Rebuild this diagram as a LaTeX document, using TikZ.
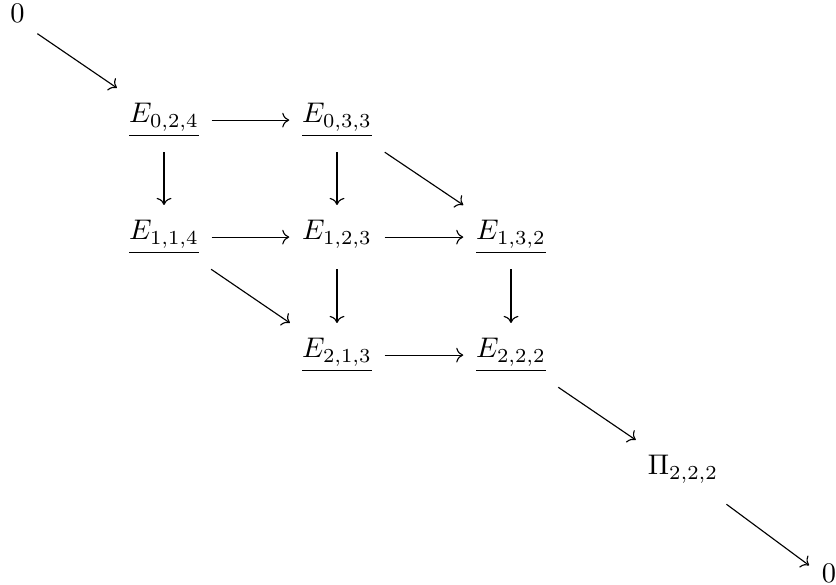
\documentclass[tikz,border=0pt]{standalone}
\usetikzlibrary{arrows.meta}
\begin{document}
\begin{tikzpicture}[x=0.352pt,y=-0.352pt,
  cell/.style={inner xsep=1ex,inner ysep=5.3pt,text height=6.83pt,text depth=4.8pt,anchor=base},
  arr/.style={-{Computer Modern Rightarrow},line width=0.4pt}]
\useasboundingbox (0,0) rectangle (836,585);
\node[cell] (z0) at (17.5,23) {$0$};
\node[cell] (a) at (164,123) {$\underline{E_{0,2,4}}$};
\node[cell] (b) at (337,123) {$\underline{E_{0,3,3}}$};
\node[cell] (c) at (164,240) {$\underline{E_{1,1,4}}$};
\node[cell] (d) at (337,240) {$E_{1,2,3}$};
\node[cell] (e) at (511,240) {$\underline{E_{1,3,2}}$};
\node[cell] (f) at (337,358) {$\underline{E_{2,1,3}}$};
\node[cell] (g) at (511,358) {$\underline{E_{2,2,2}}$};
\node[cell] (h) at (683,475) {$\Pi_{2,2,2}$};
\node[cell] (z1) at (829,583) {$0$};
\draw[arr] (z0) -- (a);
\draw[arr] (a) -- (b);
\draw[arr] (a) -- (c);
\draw[arr] (b) -- (d);
\draw[arr] (b) -- (e);
\draw[arr] (c) -- (d);
\draw[arr] (c) -- (f);
\draw[arr] (d) -- (e);
\draw[arr] (d) -- (f);
\draw[arr] (e) -- (g);
\draw[arr] (f) -- (g);
\draw[arr] (g) -- (h);
\draw[arr] (h) -- (z1);
\end{tikzpicture}
\end{document}
